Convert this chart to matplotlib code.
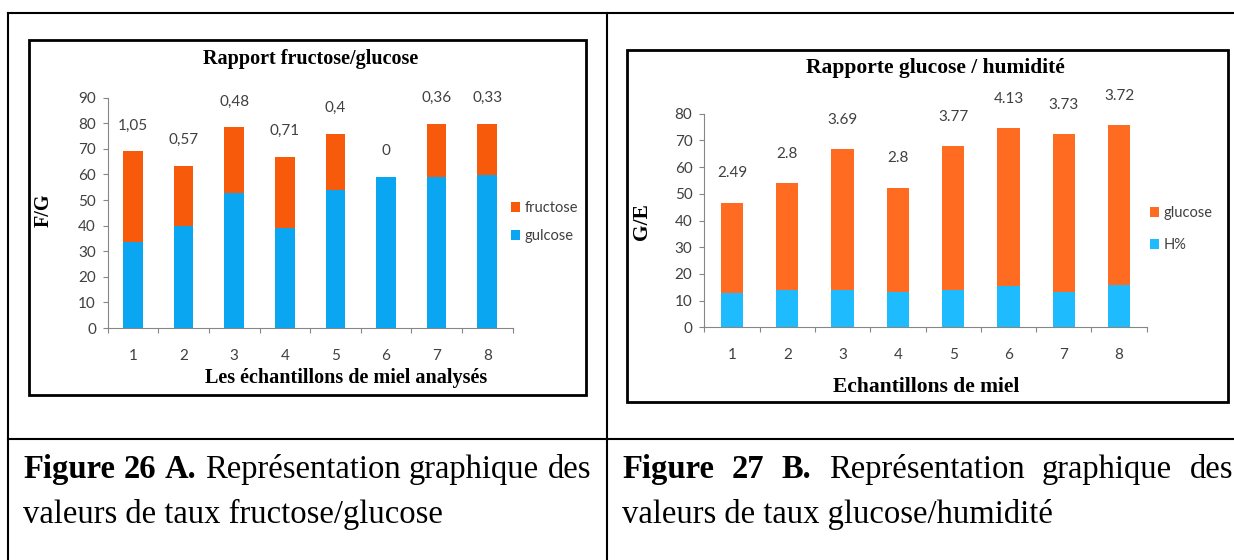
import numpy as np
import matplotlib.pyplot as plt
from matplotlib.lines import Line2D
from matplotlib.patches import Rectangle

# sample numbers on the x axis
echantillons = ['1', '2', '3', '4', '5', '6', '7', '8']

# sugar and moisture contents (%)
glucose = [33.7, 40.0, 52.9, 38.9, 53.9, 59.2, 58.9, 59.9]
fructose = [35.4, 23.4, 25.6, 27.9, 22.1, 0.0, 20.9, 19.9]
humidite = [13.0, 14.0, 14.0, 13.4, 14.1, 15.4, 13.4, 15.7]

# ratios written above the bars
rapport_fg = ['1,05', '0,57', '0,48', '0,71', '0,4', '0', '0,36', '0,33']
rapport_ge = ['2.49', '2.8', '3.69', '2.8', '3.77', '4.13', '3.73', '3.72']

W, H = 1234, 560
fig = plt.figure(figsize=(W / 100, H / 100), dpi=100)

SANS = ['Lato', 'DejaVu Sans']
SERIF = ['Liberation Serif', 'DejaVu Serif']
GREY = '#868686'
TXT = '#404040'


def fx(x):
    return x / W


def fy(y):
    return 1 - y / H


def box(x0, y0, x1, y1):
    return [fx(x0), fy(y1), (x1 - x0) / W, (y1 - y0) / H]


def line(x0, y0, x1, y1, lw):
    fig.add_artist(Line2D([fx(x0), fx(x1)], [fy(y0), fy(y1)], color='black',
                          lw=lw, transform=fig.transFigure))


def stacked(ax, low, high, ratios, c_low, c_high, names, width, ymax, offset,
            leg_xy, leg_space):
    x = np.arange(1, len(echantillons) + 1)
    b_low = ax.bar(x, low, width, color=c_low)
    b_high = ax.bar(x, high, width, bottom=low, color=c_high)
    totals = np.array(low) + np.array(high)
    for xi, t, r in zip(x, totals, ratios):
        ax.annotate(r, (xi, t), xytext=(0, offset), textcoords='offset points',
                    ha='center', va='center', fontsize=11, color=TXT,
                    family=SANS)

    ax.set_xlim(0.5, len(x) + 0.5)
    ax.set_ylim(0, ymax)
    ax.set_yticks(np.arange(0, ymax + 1, 10))
    ax.set_xticks(x)
    ax.set_xticklabels(echantillons)
    ax.set_xticks(np.arange(0.5, len(x) + 1, 1), minor=True)
    ax.tick_params(axis='x', which='major', length=0, pad=15)
    ax.tick_params(axis='x', which='minor', length=3.5, color=GREY, width=0.8)
    ax.tick_params(axis='y', length=3.5, color=GREY, width=0.8, pad=5)
    ax.tick_params(axis='y', which='minor', left=False)
    for lab in ax.get_xticklabels() + ax.get_yticklabels():
        lab.set_family(SANS)
        lab.set_fontsize(11)
        lab.set_color(TXT)
    for s in ['top', 'right']:
        ax.spines[s].set_visible(False)
    for s in ['left', 'bottom']:
        ax.spines[s].set_color(GREY)
        ax.spines[s].set_linewidth(0.8)

    ax.legend([b_high, b_low], names, loc='upper left',
              bbox_to_anchor=(fx(leg_xy[0]), fy(leg_xy[1])),
              bbox_transform=fig.transFigure, frameon=False,
              handlelength=0.65, handleheight=0.65, handletextpad=0.3,
              labelspacing=leg_space, borderpad=0, borderaxespad=0,
              prop={'family': SANS, 'size': 10.5}, labelcolor=TXT)


# table grid
line(8, 13, W, 13, 1.5)
line(8, 13, 8, H, 1.5)
line(607, 13, 607, H, 1.5)
line(8, 439, W, 439, 1.5)

# chart frames
for x0, y0, x1, y1 in [(29, 40, 586, 395), (627, 50, 1228, 402)]:
    fig.add_artist(Rectangle((fx(x0), fy(y1)), (x1 - x0) / W, (y1 - y0) / H,
                             fill=False, ec='black', lw=2,
                             transform=fig.transFigure))

# left chart: fructose / glucose
ax1 = fig.add_axes(box(107.7, 97.7, 512.5, 328))
stacked(ax1, glucose, fructose, rapport_fg, '#0aa6f2', '#f65a0a',
        ['fructose', 'gulcose'], 0.39, 90, 18.5, (511, 201), 0.95)
fig.text(fx(311), fy(59), 'Rapport fructose/glucose', ha='center',
         va='center', fontsize=14.5, weight='bold', family=SERIF)
fig.text(fx(346), fy(378), 'Les échantillons de miel analysés', ha='center',
         va='center', fontsize=14.5, weight='bold', family=SERIF)
fig.text(fx(43.5), fy(210), 'F/G', ha='center', va='center', rotation=90,
         fontsize=14.5, weight='bold', family=SERIF)

# right chart: glucose / moisture
ax2 = fig.add_axes(box(704.3, 113.7, 1146.7, 327.3))
stacked(ax2, humidite, glucose, rapport_ge, '#1ebbfe', '#ff6b20',
        ['glucose', 'H%'], 0.40, 80, 21, (1150, 206), 1.25)
fig.text(fx(935.6), fy(68.3), 'Rapporte glucose / humidité', ha='center',
         va='center', fontsize=15.5, weight='bold', family=SERIF)
fig.text(fx(926), fy(386.7), 'Echantillons de miel', ha='center',
         va='center', fontsize=15.5, weight='bold', family=SERIF)
fig.text(fx(642), fy(221.7), 'G/E', ha='center', va='center', rotation=90,
         fontsize=15.5, weight='bold', family=SERIF)


# captions, first line justified between the cell margins
def caption(bold_words, words, x0, x1, second):
    size = 23.5
    items = [fig.text(0, fy(478), w, fontsize=size, weight='bold',
                      family=SERIF, va='baseline') for w in bold_words]
    items += [fig.text(0, fy(478), w, fontsize=size, family=SERIF,
                       va='baseline') for w in words]
    r = fig.canvas.get_renderer()
    widths = [t.get_window_extent(r).width for t in items]
    gap = (x1 - x0 - sum(widths)) / (len(items) - 1)
    x = x0
    for t, w in zip(items, widths):
        t.set_x(fx(x))
        x += w + gap
    fig.text(fx(x0), fy(523), second, fontsize=size, family=SERIF,
             va='baseline')


caption(['Figure', '26', 'A.'], ['Représentation', 'graphique', 'des'],
        23, 591, 'valeurs de taux fructose/glucose')
caption(['Figure', '27', 'B.'], ['Représentation', 'graphique', 'des'],
        622, 1233, 'valeurs de taux glucose/humidité')

fig.savefig('out.png', dpi=100)
